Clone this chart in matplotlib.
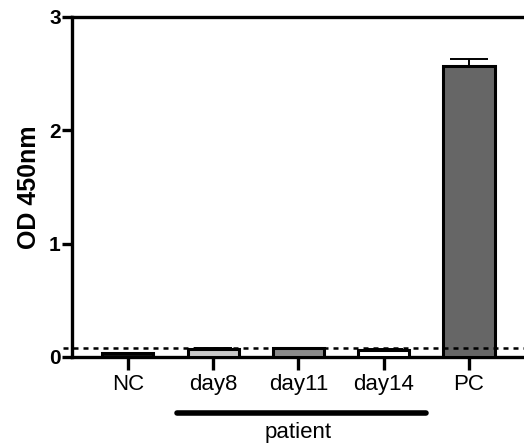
import numpy as np
import matplotlib.pyplot as plt

plt.rcParams['font.family'] = ['Liberation Sans', 'DejaVu Sans']

groups = ["NC", "day8", "day11", "day14", "PC"]
od = [0.03, 0.07, 0.075, 0.065, 2.57]
sd = [0.005, 0.01, 0.005, 0.008, 0.06]
fills = ["#111111", "#c8c8c8", "#8a8a8a", "#ffffff", "#666666"]
cutoff = 0.075

fig = plt.figure(figsize=(5.24, 4.45), dpi=100)
ax = fig.add_axes([0.137, 0.198, 0.863, 0.764])

x = np.arange(len(groups))
ax.bar(x, od, width=0.6, color=fills, edgecolor="black", linewidth=2.2, zorder=3)
ax.errorbar(x, od, yerr=[np.zeros(len(sd)), sd], fmt="none", ecolor="black",
            elinewidth=1.4, capsize=14, capthick=1.4, zorder=2)

# cutoff line
ax.plot([-0.02, 1], [cutoff, cutoff], transform=ax.get_yaxis_transform(),
        ls=(0, (2, 2)), color="black", lw=1.8, clip_on=False, zorder=4)

ax.set_xlim(-0.657, 4.645)
ax.set_ylim(0, 3)
ax.set_yticks([0, 1, 2, 3])
ax.set_xticks(x)
ax.set_xticklabels(groups, fontsize=16)
for t in ax.get_yticklabels():
    t.set_fontsize(15)
    t.set_fontweight("bold")
ax.set_ylabel("OD 450nm", fontsize=18, fontweight="bold", labelpad=6)

ax.spines["right"].set_visible(False)
for s in ["left", "bottom", "top"]:
    ax.spines[s].set_linewidth(2.4)
ax.tick_params(axis="y", length=7, width=2.4, pad=1)
ax.tick_params(axis="x", length=9, width=2.4, pad=3)

# group bracket under the patient days
ax.plot([0.575, 3.5], [-0.165, -0.165], transform=ax.get_xaxis_transform(), color="black",
        lw=4, clip_on=False, solid_capstyle="round")
ax.annotate("patient", xy=(2, 0), xycoords=("data", "axes fraction"),
            xytext=(0, -47), textcoords="offset points", ha="center", va="top", fontsize=16)

fig.savefig("out.png", dpi=100)
